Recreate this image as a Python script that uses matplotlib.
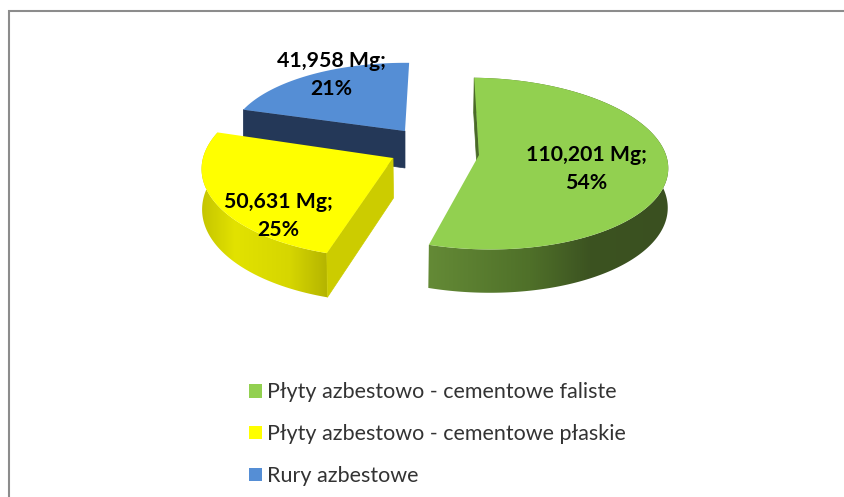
import matplotlib
matplotlib.use("Agg")
import matplotlib.pyplot as plt
from matplotlib.colors import to_rgb
from matplotlib.patches import Patch, Polygon
import numpy as np

plt.rcParams['font.family'] = ['Lato', 'DejaVu Sans']

names = ["Płyty azbestowo - cementowe faliste",
         "Płyty azbestowo - cementowe płaskie",
         "Rury azbestowe"]
masses = [110201, 50631, 41958]
percents = [54, 25, 21]
mass_labels = ["110,201 Mg;", "50,631 Mg;", "41,958 Mg;"]

top_colors = ["#92D050", "#FFFF00", "#558ED5"]
face_colors = ["#4A6A28", "#CCCC00", "#243858"]
# rim gradient stops: (screen x, colour)
rims = [[(429, "#648A36"), (530, "#4F7029"), (590, "#3C5321"), (670, "#3A5020")],
        [(200, "#C4C400"), (235, "#E2E200"), (290, "#D6D600"), (328, "#B4B400")],
        None]

# per slice geometry, in pixels: apex, radii, depth, shear, sideways drift of the depth
apex = [(479, 155), (393, 158), (405, 131)]
radii = [(187, 85), (190, 90), (174, 75)]
depth = [39, 40, 37]
shear = [0.12, -0.045, 0.0]
drift = [-0.5, 0.5, 0.0]
persp = 0.1
start = 1.5
label_pos = [(586, 169), (278, 216), (331, 75)]


def project(i, theta, z=0.0):
    t = np.radians(theta)
    x, y = np.sin(t), np.cos(t)
    f = 1 / (1 + persp * y)
    dy = -radii[i][1] * y * f
    sx = apex[i][0] + radii[i][0] * x * f + shear[i] * dy
    sy = apex[i][1] + dy
    return sx + z * drift[i] * f / depth[i], sy + z * f


fractions = np.array(masses) / sum(masses)
edges = start + 360 * np.concatenate([[0], np.cumsum(fractions)])

fig = plt.figure(figsize=(8.45, 4.97), dpi=100)
ax = fig.add_axes([0, 0, 1, 1])
ax.axis("off")

# chart frame, only top and left are in the picture
ax.plot([9.5, 9.5, 845], [497, 11, 11], color="#8C8C8C", lw=1.5, solid_joinstyle="miter")

for i in [2, 1, 0]:
    th = np.linspace(edges[i], edges[i + 1], 300)
    ax1, ay1 = apex[i]
    level = i * -3 + 10
    # rim of the slice, gradient image clipped to the wall outline
    if rims[i] is not None:
        x0, y0 = project(i, th)
        x1, y1 = project(i, th, depth[i])
        outline = np.c_[np.r_[x0, x1[::-1]], np.r_[y0, y1[::-1]]]
        xs = [s[0] for s in rims[i]]
        cs = np.array([to_rgb(s[1]) for s in rims[i]])
        grid = np.arange(xs[0] - 5, xs[-1] + 5)
        img = np.stack([np.interp(grid, xs, cs[:, k]) for k in range(3)], axis=-1)[None, :, :]
        im = ax.imshow(img, extent=(grid[0], grid[-1], outline[:, 1].max() + 2, outline[:, 1].min() - 2),
                       aspect="auto", interpolation="bilinear", zorder=level)
        clip = Polygon(outline, transform=ax.transData, facecolor="none", edgecolor="none")
        ax.add_patch(clip)
        im.set_clip_path(clip)
    # cut face that can be seen
    ex, ey = project(i, edges[i])
    ex2, ey2 = project(i, edges[i], depth[i])
    bx, by = ax1 + drift[i], ay1 + depth[i]
    ax.fill([ax1, ex, ex2, bx], [ay1, ey, ey2, by], color=face_colors[i], lw=0.5, zorder=level + 1)
    # top
    px, py = project(i, th)
    ax.fill(np.r_[ax1, px], np.r_[ay1, py], color=top_colors[i], lw=0, zorder=level + 2)

ax.set_xlim(0, 845)
ax.set_ylim(497, 0)

for i in range(3):
    ax.text(label_pos[i][0], label_pos[i][1], "%s\n%d%%" % (mass_labels[i], percents[i]),
            ha="center", va="center", fontsize=15.3, fontweight="bold", color="black",
            linespacing=1.47, zorder=30)

handles = [Patch(facecolor=c, edgecolor="none") for c in top_colors]
ax.legend(handles, names, loc="upper left", bbox_to_anchor=(249 / 845, 1 - 382.5 / 497),
          frameon=False, fontsize=15.5, labelcolor="#333333", handlelength=0.6,
          handleheight=0.6, handletextpad=0.23, labelspacing=1.01, borderpad=0, borderaxespad=0)

plt.savefig("out.png", dpi=100)
